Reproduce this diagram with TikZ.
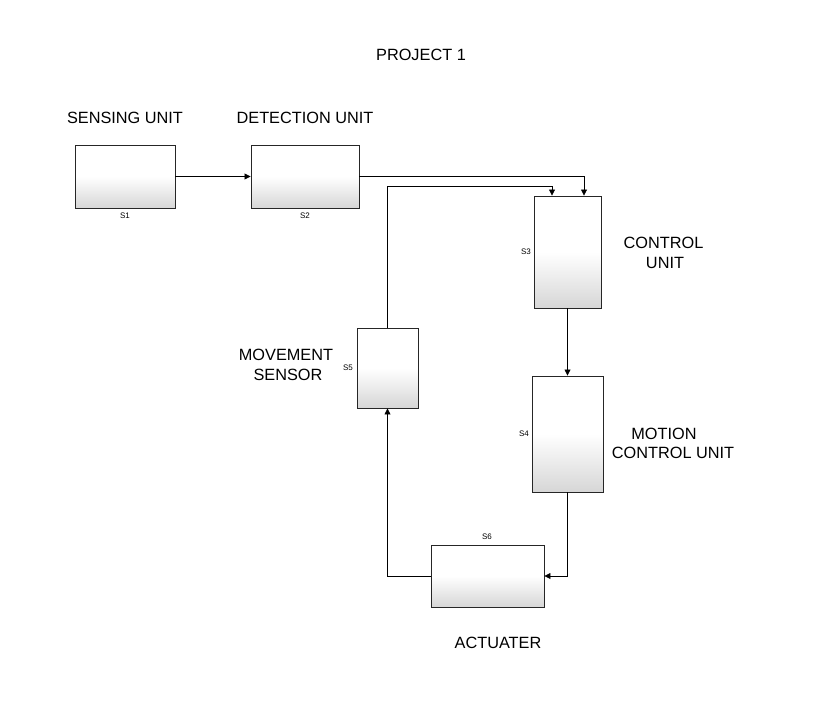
\documentclass[tikz,border=0pt]{standalone}
\usepackage{fontspec}
\setmainfont{Liberation Sans}
\usetikzlibrary{arrows.meta,shadows}
\begin{document}
\begin{tikzpicture}[x=1pt,y=1pt,
  blk/.style={draw=black!85, line width=0.9pt, top color=white, bottom color=black!16, middle color=white,
    drop shadow={shadow xshift=1.2pt, shadow yshift=-1.2pt, opacity=0.35, fill=black!60},
    inner sep=0pt},
  lbl/.style={font=\fontsize{16.3}{19}\selectfont, inner sep=0pt},
  tag/.style={font=\fontsize{8}{9}\selectfont, inner sep=0pt},
  conn/.style={draw, line width=0.8pt, -{Triangle[length=6pt,width=6pt]}},
  plain/.style={draw, line width=0.8pt}]
\useasboundingbox[fill=white] (0,0) rectangle (821,-704);
% blocks
\node[blk, minimum width=100pt, minimum height=63pt] (s1) at (125,-176.5) {};
\node[blk, minimum width=108pt, minimum height=63pt] (s2) at (305,-176.5) {};
\node[blk, minimum width=67pt, minimum height=112pt] (s3) at (567.5,-252) {};
\node[blk, minimum width=71pt, minimum height=116pt] (s4) at (567.5,-434) {};
\node[blk, minimum width=61pt, minimum height=80pt] (s5) at (387.5,-368) {};
\node[blk, minimum width=113pt, minimum height=62pt] (s6) at (487.5,-576) {};
% tags
\node[tag] (t1) at (125,-216) {S1};
\node[tag] (t2) at (305,-216) {S2};
\node[tag, anchor=east] (t3) at (531,-252) {S3};
\node[tag, anchor=east] (t4) at (529,-434) {S4};
\node[tag, anchor=east] (t5) at (353,-368) {S5};
\node[tag] (t6) at (487,-537) {S6};
% labels
\node[lbl] (title) at (421,-55) {PROJECT 1};
\node[lbl] (l1) at (125,-118) {SENSING UNIT};
\node[lbl] (l2) at (305,-118) {DETECTION UNIT};
\node[lbl] (l3a) at (663.5,-243) {CONTROL};
\node[lbl] (l3b) at (665,-263) {UNIT};
\node[lbl] (l5a) at (286,-355) {MOVEMENT};
\node[lbl] (l5b) at (288,-375) {SENSOR};
\node[lbl] (l4a) at (664,-434) {MOTION};
\node[lbl] (l4b) at (673,-453) {CONTROL UNIT};
\node[lbl] (l6) at (498,-643) {ACTUATER};
% connectors
\coordinate (in3a) at ([xshift=-15.5pt]s3.north);
\coordinate (in3b) at ([xshift=16.5pt]s3.north);
\path[conn] (s1.east) -- (s2.west);
\path[conn] (s2.east) -| (in3b);
\coordinate (c5) at (s5.north |- 0,-186);
\path[conn] (s5.north) -- (c5) -| (in3a);
\path[conn] (s3.south) -- (s4.north);
\path[conn] (s4.south) |- (s6.east);
\path[conn] (s6.west) -| (s5.south);
\end{tikzpicture}
\end{document}
